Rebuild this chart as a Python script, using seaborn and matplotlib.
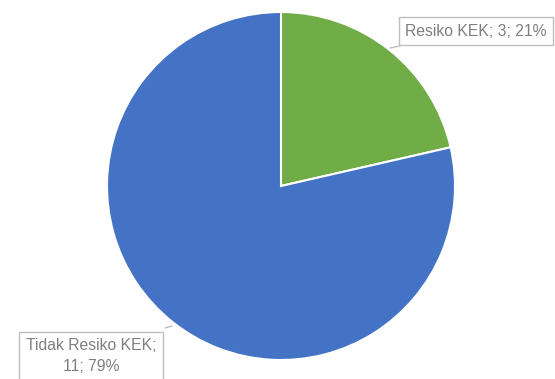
import matplotlib
matplotlib.use("Agg")
import matplotlib.pyplot as plt
import seaborn as sns

categories = ["Resiko KEK", "Tidak Resiko KEK"]
values = [3, 11]
colors = ["#70AD47", "#4472C4"]

sns.set_theme(style="white")
plt.rcParams['font.family'] = ['Liberation Sans', 'DejaVu Sans']

W, H = 555, 379
fig = plt.figure(figsize=(W / 100, H / 100), dpi=100)
ax = fig.add_axes([0, 0, 1, 1])

cx, cy, r = 281, H - 186, 174
ax.pie(values, colors=colors, startangle=90, counterclock=False,
       center=(cx, cy), radius=r, frame=True,
       wedgeprops=dict(edgecolor='white', linewidth=1.5))
ax.set_xlim(0, W)
ax.set_ylim(0, H)
ax.set_aspect('equal')
ax.axis('off')

total = sum(values)
labels = [f"{c}; {v}; {round(v / total * 100)}%" for c, v in zip(categories, values)]
labels[1] = f"{categories[1]};\n{values[1]}; {round(values[1] / total * 100)}%"

box = dict(boxstyle='square,pad=0.4', facecolor='white', edgecolor='#BFBFBF', linewidth=1)
ax.text(476, H - 31, labels[0], ha='center', va='center', fontsize=11.3,
        color='#7F7F7F', bbox=box)
ax.plot([390, 400], [H - 48, H - 46], color='#BFBFBF', lw=1)
ax.text(91, H - 356, labels[1], ha='center', va='center', fontsize=11.3,
        color='#7F7F7F', bbox=box, linespacing=1.45)
ax.plot([165, 172], [H - 328, H - 326], color='#BFBFBF', lw=1)

fig.savefig("out.png", dpi=100)
